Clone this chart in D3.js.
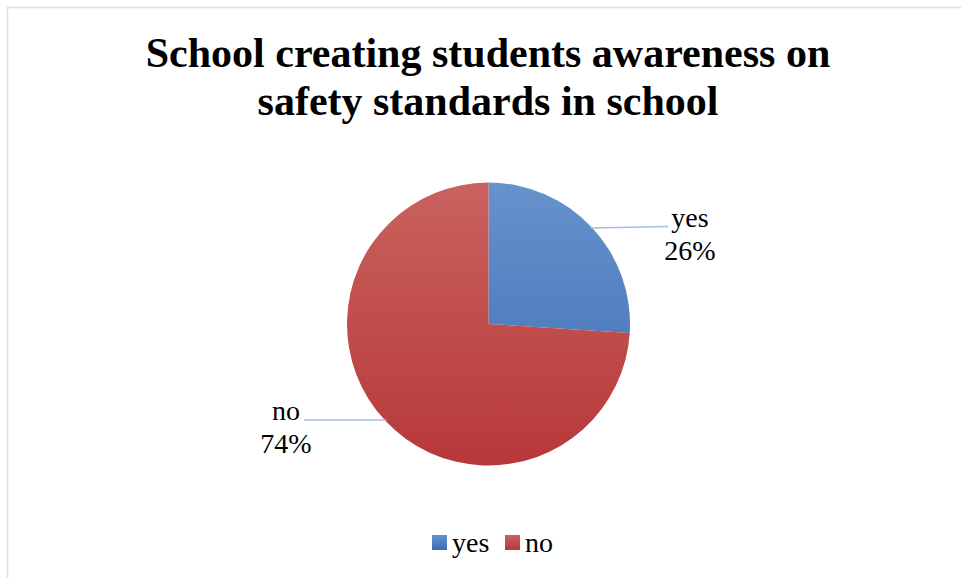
<!DOCTYPE html>
<html><head><meta charset="utf-8">
<script src="https://cdn.jsdelivr.net/npm/d3@7"></script>
<style>body{margin:0;background:#fff}svg{display:block}text{font-family:"Liberation Serif","Times New Roman",serif}</style>
</head><body><svg id="c" width="961" height="578"></svg>
<script>
const categories = ["yes", "no"];
const values = [26, 74];
const labels = ["26%", "74%"];
const title = ["School creating students awareness on", "safety standards in school"];
const colorsTop = ["#6792cc", "#c9625e"];
const colorsBottom = ["#3b6db4", "#b8383a"];

const svg = d3.select("#c");
svg.append("rect").attr("x",7.5).attr("y",7.5).attr("width",970).attr("height",600)
  .attr("fill","#fff").attr("stroke","#d6e2f0").attr("stroke-width",1.5);

svg.selectAll("text.title").data(title).enter().append("text")
  .attr("x",488).attr("y",(d,i)=>67+i*48).attr("text-anchor","middle")
  .attr("font-size",42).attr("font-weight","bold").attr("fill","#000").text(d=>d);

const cx=488.5, cy=324, r=141.5;
const defs = svg.append("defs");
categories.forEach((c,i)=>{
  const g=defs.append("linearGradient").attr("id","g"+i).attr("gradientUnits","userSpaceOnUse")
    .attr("x1",0).attr("y1",-r).attr("x2",0).attr("y2",r);
  g.append("stop").attr("offset","0").attr("stop-color",colorsTop[i]);
  g.append("stop").attr("offset","1").attr("stop-color",colorsBottom[i]);
});
const pie=d3.pie().sort(null).value(d=>d)(values);
const arc=d3.arc().innerRadius(0).outerRadius(r);
const gp=svg.append("g").attr("transform",`translate(${cx},${cy})`);
gp.selectAll("path").data(pie).enter().append("path").attr("d",arc)
  .attr("fill",(d,i)=>`url(#g${i})`);

// leader lines and labels
const labelPos=[{x:690,y:227,lx:668,ly:226.5},{x:286,y:420,lx:304,ly:420}];
pie.forEach((d,i)=>{
  const a=(d.startAngle+d.endAngle)/2;
  const ex=cx+Math.sin(a)*r*0.99, ey=cy-Math.cos(a)*r*0.99;
  const p=labelPos[i];
  svg.append("line").attr("x1",ex).attr("y1",ey).attr("x2",p.lx).attr("y2",p.ly)
    .attr("stroke","#a3bfe4").attr("stroke-width",1.5);
  svg.append("text").attr("x",p.x).attr("y",p.y).attr("text-anchor","middle")
    .attr("font-size",28).text(categories[i]);
  svg.append("text").attr("x",p.x).attr("y",p.y+32.5).attr("text-anchor","middle")
    .attr("font-size",28).text(labels[i]);
});

// legend
const lx=[432,505];
categories.forEach((c,i)=>{
  const g=defs.append("linearGradient").attr("id","lg"+i).attr("x1",0).attr("y1",0).attr("x2",0).attr("y2",1);
  g.append("stop").attr("offset","0").attr("stop-color",colorsTop[i]);
  g.append("stop").attr("offset","1").attr("stop-color",colorsBottom[i]);
  svg.append("rect").attr("x",lx[i]).attr("y",535).attr("width",15).attr("height",15)
    .attr("fill",`url(#lg${i})`);
  svg.append("text").attr("x",lx[i]+20).attr("y",552).attr("font-size",28).text(c);
});
</script></body></html>
